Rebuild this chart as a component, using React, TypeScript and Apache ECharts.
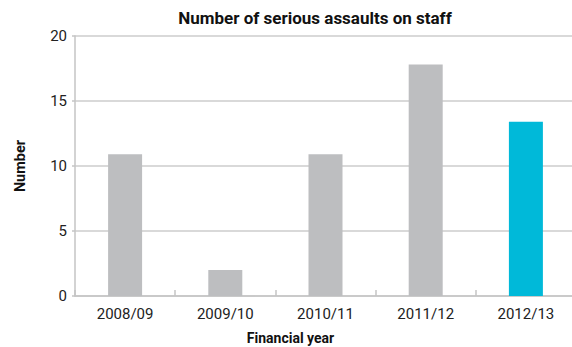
import React, { useEffect, useRef } from "react";
import * as echarts from "echarts";

const categories = ["2008/09", "2009/10", "2010/11", "2011/12", "2012/13"];
const values = [10.9, 2, 10.9, 17.8, 13.4];
const barColors = ["#bdbec0", "#bdbec0", "#bdbec0", "#bdbec0", "#00b9d9"];
const titleText = "Number of serious assaults on staff";
const xName = "Financial year";
const yName = "Number";

export default function App() {
  const ref = useRef<HTMLDivElement>(null);
  useEffect(() => {
    if (!ref.current) return;
    const chart = echarts.init(ref.current, undefined, { renderer: "svg" });
    const font = "Roboto, 'Liberation Sans', sans-serif";
    chart.setOption({
      animation: false,
      textStyle: { fontFamily: font },
      title: {
        text: titleText,
        left: 310,
        textAlign: "center",
        top: 4,
        textStyle: { fontSize: 17, fontWeight: "bold", color: "#111", fontFamily: font },
      },
      grid: {
        left: 75,
        top: 36,
        width: 501,
        bottom: 51,
        containLabel: false,
        outerBoundsMode: "none",
      },
      xAxis: {
        type: "category",
        data: categories,
        name: xName,
        nameLocation: "middle",
        nameGap: 35,
        nameTextStyle: { fontSize: 14, fontWeight: "bold", color: "#111", padding: [0, 0, 0, -70] },
        axisLine: { show: true, lineStyle: { color: "#c4c4c4", width: 1.5 } },
        axisTick: { show: true, inside: true, length: 6, lineStyle: { color: "#c4c4c4", width: 1.5 } },
        axisLabel: { fontSize: 15, color: "#222", margin: 10 },
      },
      yAxis: {
        type: "value",
        min: 0,
        max: 20,
        interval: 5,
        name: yName,
        nameLocation: "middle",
        nameGap: 47,
        nameRotate: 90,
        nameTextStyle: { fontSize: 14.5, fontWeight: "bold", color: "#111" },
        axisLine: { show: true, lineStyle: { color: "#c4c4c4", width: 1.5 } },
        axisTick: { show: true, length: 3, lineStyle: { color: "#c4c4c4", width: 1.5 } },
        axisLabel: { fontSize: 15, color: "#222", margin: 8 },
        splitLine: { show: true, lineStyle: { color: "#cccccc", width: 1.5 } },
      },
      series: [
        {
          type: "bar",
          barWidth: 34,
          data: values.map((v, i) => ({ value: v, itemStyle: { color: barColors[i] } })),
        },
      ],
    });
    return () => chart.dispose();
  }, []);
  return (
    <div
      ref={ref}
      style={{ position: "absolute", left: 0, top: 0, width: 572, height: 347, background: "#fff" }}
    />
  );
}
